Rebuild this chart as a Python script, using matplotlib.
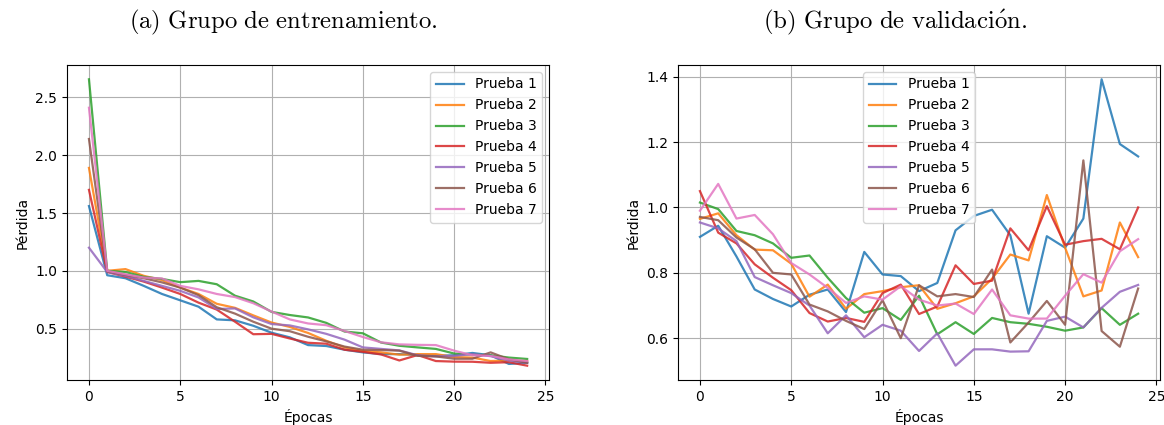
import matplotlib
matplotlib.use("Agg")
import matplotlib.pyplot as plt
import numpy as np

plt.rcParams['mathtext.fontset'] = 'cm'

epochs = np.arange(25)
labels = ["Prueba 1", "Prueba 2", "Prueba 3", "Prueba 4", "Prueba 5", "Prueba 6", "Prueba 7"]

# Pérdida en el grupo de entrenamiento
train_p1 = [1.56, 0.962, 0.936, 0.87, 0.80, 0.745, 0.69, 0.58, 0.572, 0.525, 0.465, 0.425, 0.358,
            0.35, 0.318, 0.295, 0.28, 0.28, 0.272, 0.265, 0.27, 0.29, 0.27, 0.195, 0.205]
train_p2 = [1.89, 1.0, 1.015, 0.957, 0.92, 0.855, 0.80, 0.715, 0.68, 0.615, 0.553, 0.515, 0.463,
            0.395, 0.338, 0.307, 0.295, 0.275, 0.28, 0.28, 0.255, 0.25, 0.22, 0.225, 0.22]
train_p3 = [2.656, 1.0, 0.99, 0.948, 0.93, 0.902, 0.913, 0.884, 0.785, 0.735, 0.645, 0.618, 0.597,
            0.55, 0.475, 0.46, 0.38, 0.352, 0.338, 0.325, 0.285, 0.275, 0.27, 0.25, 0.238]
train_p4 = [1.70, 0.99, 0.95, 0.907, 0.855, 0.80, 0.725, 0.665, 0.56, 0.452, 0.455, 0.415, 0.378,
            0.37, 0.318, 0.30, 0.277, 0.225, 0.272, 0.22, 0.215, 0.214, 0.205, 0.21, 0.18]
train_p5 = [1.20, 0.99, 0.957, 0.913, 0.87, 0.827, 0.77, 0.67, 0.675, 0.598, 0.54, 0.528, 0.494,
            0.455, 0.405, 0.338, 0.325, 0.312, 0.27, 0.26, 0.265, 0.28, 0.262, 0.225, 0.205]
train_p6 = [2.14, 0.995, 0.965, 0.936, 0.90, 0.855, 0.79, 0.685, 0.63, 0.56, 0.50, 0.478, 0.43,
            0.39, 0.345, 0.318, 0.315, 0.31, 0.265, 0.26, 0.24, 0.24, 0.295, 0.235, 0.205]
train_p7 = [2.41, 1.0, 0.97, 0.942, 0.934, 0.87, 0.84, 0.80, 0.773, 0.72, 0.648, 0.58, 0.545,
            0.53, 0.48, 0.428, 0.382, 0.364, 0.36, 0.358, 0.31, 0.27, 0.265, 0.234, 0.22]

# Pérdida en el grupo de validación
val_p1 = [0.91, 0.944, 0.85, 0.749, 0.72, 0.697, 0.733, 0.749, 0.68, 0.864, 0.795, 0.79, 0.744,
          0.769, 0.93, 0.974, 0.993, 0.915, 0.675, 0.912, 0.877, 0.966, 1.392, 1.194, 1.156]
val_p2 = [0.965, 0.982, 0.915, 0.871, 0.869, 0.828, 0.727, 0.764, 0.69, 0.735, 0.744, 0.756, 0.762,
          0.69, 0.707, 0.728, 0.782, 0.856, 0.838, 1.038, 0.877, 0.728, 0.746, 0.954, 0.848]
val_p3 = [1.015, 0.995, 0.928, 0.915, 0.89, 0.846, 0.853, 0.785, 0.723, 0.678, 0.692, 0.656, 0.73,
          0.612, 0.649, 0.613, 0.662, 0.649, 0.644, 0.635, 0.623, 0.633, 0.692, 0.641, 0.675]
val_p4 = [1.05, 0.923, 0.89, 0.826, 0.785, 0.747, 0.677, 0.651, 0.662, 0.65, 0.738, 0.764, 0.674,
          0.697, 0.823, 0.766, 0.776, 0.936, 0.869, 1.004, 0.886, 0.897, 0.904, 0.872, 1.0]
val_p5 = [0.954, 0.936, 0.897, 0.787, 0.762, 0.738, 0.70, 0.615, 0.67, 0.603, 0.641, 0.623, 0.561,
          0.615, 0.516, 0.566, 0.566, 0.559, 0.56, 0.653, 0.666, 0.633, 0.693, 0.742, 0.763]
val_p6 = [0.971, 0.961, 0.908, 0.872, 0.80, 0.795, 0.703, 0.682, 0.653, 0.628, 0.716, 0.60, 0.762,
          0.728, 0.735, 0.726, 0.81, 0.587, 0.648, 0.714, 0.641, 1.144, 0.622, 0.574, 0.752]
val_p7 = [0.99, 1.072, 0.966, 0.977, 0.918, 0.83, 0.795, 0.754, 0.708, 0.728, 0.718, 0.759, 0.718,
          0.70, 0.706, 0.674, 0.749, 0.67, 0.66, 0.66, 0.73, 0.796, 0.77, 0.866, 0.903]

train_runs = [train_p1, train_p2, train_p3, train_p4, train_p5, train_p6, train_p7]
val_runs = [val_p1, val_p2, val_p3, val_p4, val_p5, val_p6, val_p7]

fig = plt.figure(figsize=(11.64, 4.25), dpi=100)
ax1 = fig.add_axes([0.0576, 0.1059, 0.4141, 0.7412])
ax2 = fig.add_axes([0.5825, 0.1059, 0.4141, 0.7412])

for ax, runs, loc in [(ax1, train_runs, "upper right"), (ax2, val_runs, "upper center")]:
    for run, lab in zip(runs, labels):
        ax.plot(epochs, run, label=lab, linewidth=1.6, alpha=0.85)
    ax.grid(True, color="#b0b0b0", linewidth=0.8)
    ax.set_xlabel("Épocas")
    ax.set_ylabel("Pérdida")
    ax.set_xticks([0, 5, 10, 15, 20, 25])
    ax.legend(loc=loc)

ax2.set_yticks([0.6, 0.8, 1.0, 1.2, 1.4])

fig.text(283 / 1164, 0.948, r"$\mathrm{(a)\ Grupo\ de\ entrenamiento.}$",
         ha="center", va="center", fontsize=17.8)
fig.text(895 / 1164, 0.948, r"$\mathrm{(b)\ Grupo\ de\ validaci\acute{o}n.}$",
         ha="center", va="center", fontsize=17.8)

fig.savefig("out.png", dpi=100)
